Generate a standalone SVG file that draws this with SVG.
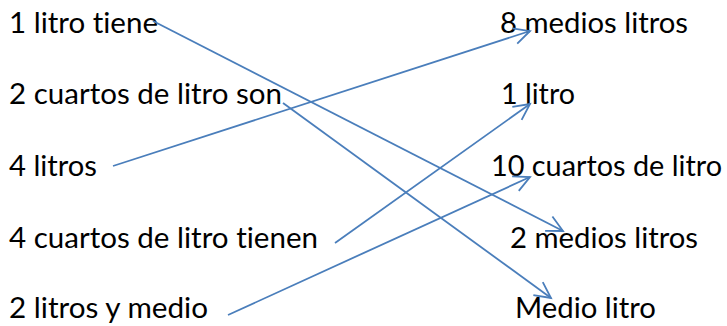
<svg xmlns="http://www.w3.org/2000/svg" width="727" height="326" viewBox="0 0 727 326">
<defs>
<style>
text{font-family:Lato,"Liberation Sans",sans-serif;font-size:29px;fill:#000;font-variant-ligatures:none;font-feature-settings:"liga" 0,"clig" 0}
.c{stroke:#4a7ebb;stroke-width:1.8;fill:none}
</style>
<marker id="ah" markerUnits="userSpaceOnUse" viewBox="-20 -12 24 24" markerWidth="24" markerHeight="24" refX="0" refY="0" orient="auto">
<path d="M-16,-8 L0,0 L-16,8" fill="none" stroke="#4a7ebb" stroke-width="1.8"/>
</marker>
</defs>
<rect width="727" height="326" fill="#fff"/>
<g id="l1"><text x="9" y="33" textLength="149" lengthAdjust="spacingAndGlyphs">1 litro tiene</text></g>
<g id="l2"><text x="9" y="104" textLength="273" lengthAdjust="spacingAndGlyphs">2 cuartos de litro son</text></g>
<g id="l3"><text x="9" y="176" textLength="88" lengthAdjust="spacingAndGlyphs">4 litros</text></g>
<g id="l4"><text x="9" y="248" textLength="309" lengthAdjust="spacingAndGlyphs">4 cuartos de litro tienen</text></g>
<g id="l5"><text x="9" y="318" textLength="199" lengthAdjust="spacingAndGlyphs">2 litros y medio</text></g>
<g id="r1"><text x="500" y="33" textLength="188" lengthAdjust="spacingAndGlyphs">8 medios litros</text></g>
<g id="r2"><text x="501" y="104" textLength="74" lengthAdjust="spacingAndGlyphs">1 litro</text></g>
<g id="r3"><text x="491" y="176" textLength="231" lengthAdjust="spacingAndGlyphs">10 cuartos de litro</text></g>
<g id="r4"><text x="510" y="248" textLength="188" lengthAdjust="spacingAndGlyphs">2 medios litros</text></g>
<g id="r5"><text x="515" y="318" textLength="141" lengthAdjust="spacingAndGlyphs">Medio litro</text></g>
<g id="connectors">
<line class="c" x1="153" y1="21" x2="563" y2="231" marker-end="url(#ah)"/>
<line class="c" x1="283" y1="103" x2="551" y2="298" marker-end="url(#ah)"/>
<line class="c" x1="113" y1="166" x2="530" y2="31" marker-end="url(#ah)"/>
<line class="c" x1="335" y1="243" x2="530" y2="104" marker-end="url(#ah)"/>
<line class="c" x1="228" y1="315" x2="530" y2="177" marker-end="url(#ah)"/>
</g>
</svg>
